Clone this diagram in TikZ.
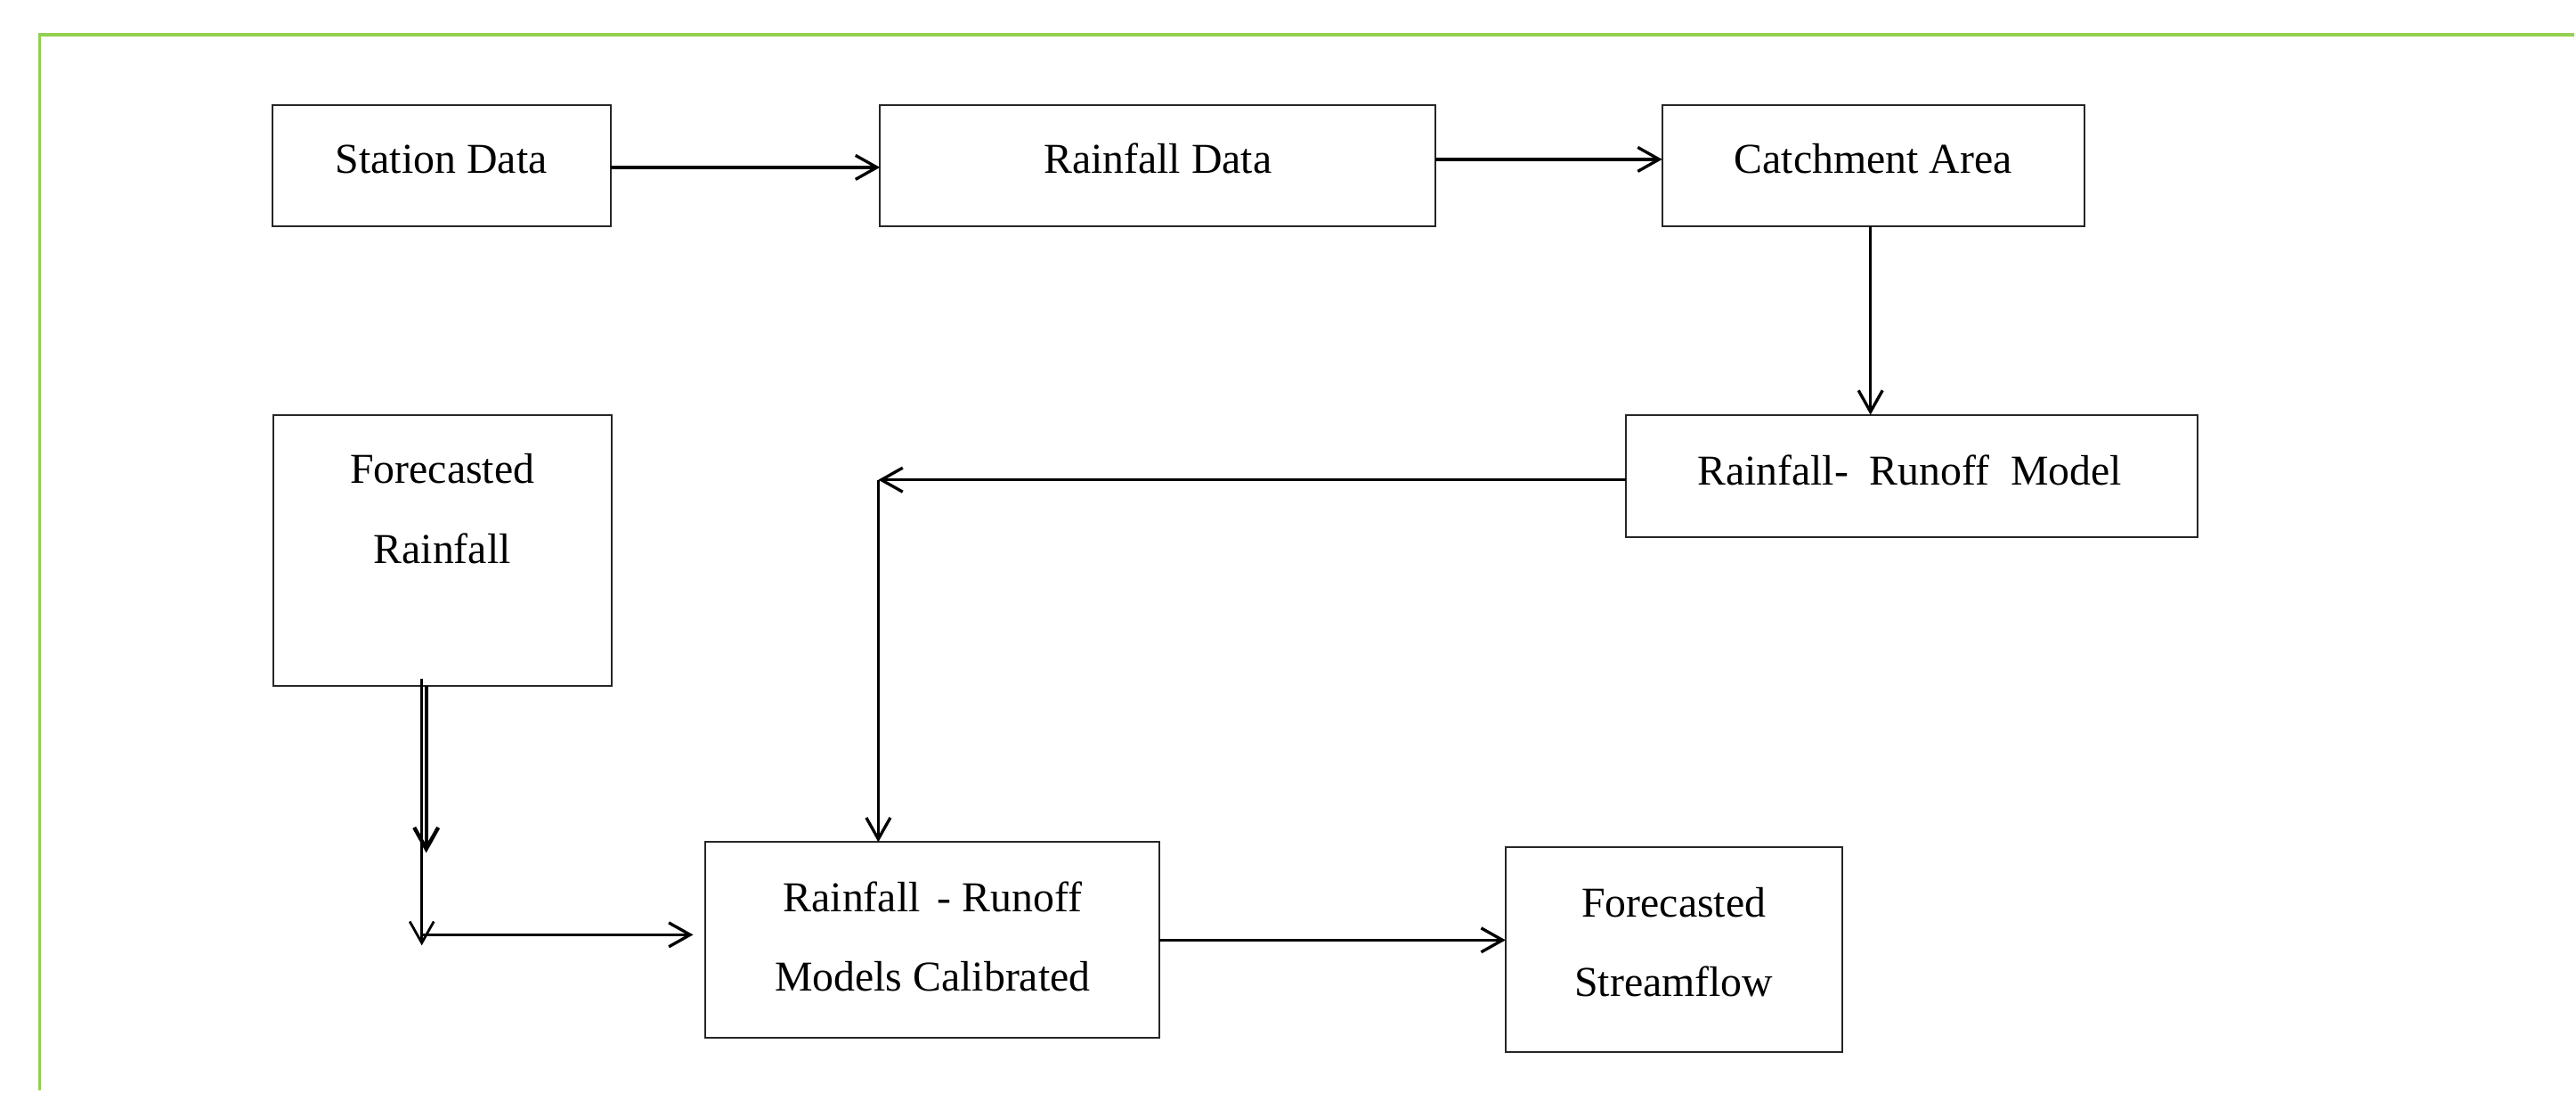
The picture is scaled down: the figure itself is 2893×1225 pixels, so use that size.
\documentclass[tikz,border=0pt]{standalone}
\usepackage{fontspec}
\setmainfont{Liberation Serif}
\usetikzlibrary{arrows.meta}
\definecolor{framegreen}{HTML}{92D050}
\begin{document}
\begin{tikzpicture}[x=0.01cm,y=-0.01cm,
  box/.style={draw=black!85, line width=0.55pt, inner sep=0pt, outer sep=0pt, rectangle},
  txt/.style={anchor=base, inner sep=0pt, font=\fontsize{13.6}{16}\selectfont},
  conn/.style={line width=0.95pt, -{Straight Barb[length=0.24cm,width=0.27cm]}},
  frameline/.style={draw=framegreen, line width=1.05pt}]
\fill[white] (0,0) rectangle (2893,1225);
% frame
\draw[frameline] (44.5,1225) -- (44.5,38.7) -- (2893,38.7);
% boxes
\node[box, minimum width=3.80cm, minimum height=1.36cm] (sd) at (496,186) {};
\node[box, minimum width=6.24cm, minimum height=1.36cm] (rd) at (1301,186) {};
\node[box, minimum width=4.74cm, minimum height=1.36cm] (ca) at (2105,186) {};
\node[box, minimum width=6.42cm, minimum height=1.37cm] (rrm) at (2148,534.5) {};
\node[box, minimum width=3.80cm, minimum height=3.04cm] (fr) at (497,618) {};
\node[box, minimum width=5.10cm, minimum height=2.20cm] (cal) at (1048,1056) {};
\node[box, minimum width=3.78cm, minimum height=2.30cm] (sf) at (1881,1067) {};
% texts
\node[txt] (sdt) at (496,195) {Station Data};
\node[txt] (rdt) at (1301,195) {Rainfall Data};
\node[txt] (cat) at (2105,195) {Catchment Area};
\node[txt] (rrmt) at (2146,545) {Rainfall-\ \ Runoff\ \ Model};
\node[txt] (frt1) at (497,543) {Forecasted};
\node[txt] (frt2) at (497,633) {Rainfall};
\node[txt] (calt1) at (1048,1024) {Rainfall\kern0.07cm{} - Runoff};
\node[txt] (calt2) at (1048,1113) {Models Calibrated};
\node[txt] (sft1) at (1881,1030) {Forecasted};
\node[txt] (sft2) at (1881,1119) {Streamflow};
% coordinates
\coordinate (c1) at (987,539);
\coordinate (ft) at (474,762);
\coordinate (fb) at (474,1062);
\coordinate (fa) at (479,958);
\coordinate (fc) at (474,1050);
\coordinate (fd) at (779,1050);
% connectors
\draw[conn] ([yshift=-0.02cm]sd.east) -- ([yshift=-0.02cm]sd.east -| rd.west);
\draw[conn] ([yshift=0.07cm]rd.east) -- ([yshift=0.07cm]rd.east -| ca.west);
\draw[conn] ([xshift=-0.03cm]ca.south) -- ([xshift=-0.03cm]ca.south |- rrm.north);
\draw[conn] (rrm.west |- c1) -- (c1);
\draw[conn] (c1) -- (c1 |- cal.north);
\draw[conn] (cal.east) -- (cal.east -| sf.west);
\draw[conn, line width=1.25pt] (fr.south -| fa) -- (fa);
\draw[conn, line width=0.8pt] (ft) -- (fb);
\draw[conn] (fc) -- (fd);
\end{tikzpicture}
\end{document}
